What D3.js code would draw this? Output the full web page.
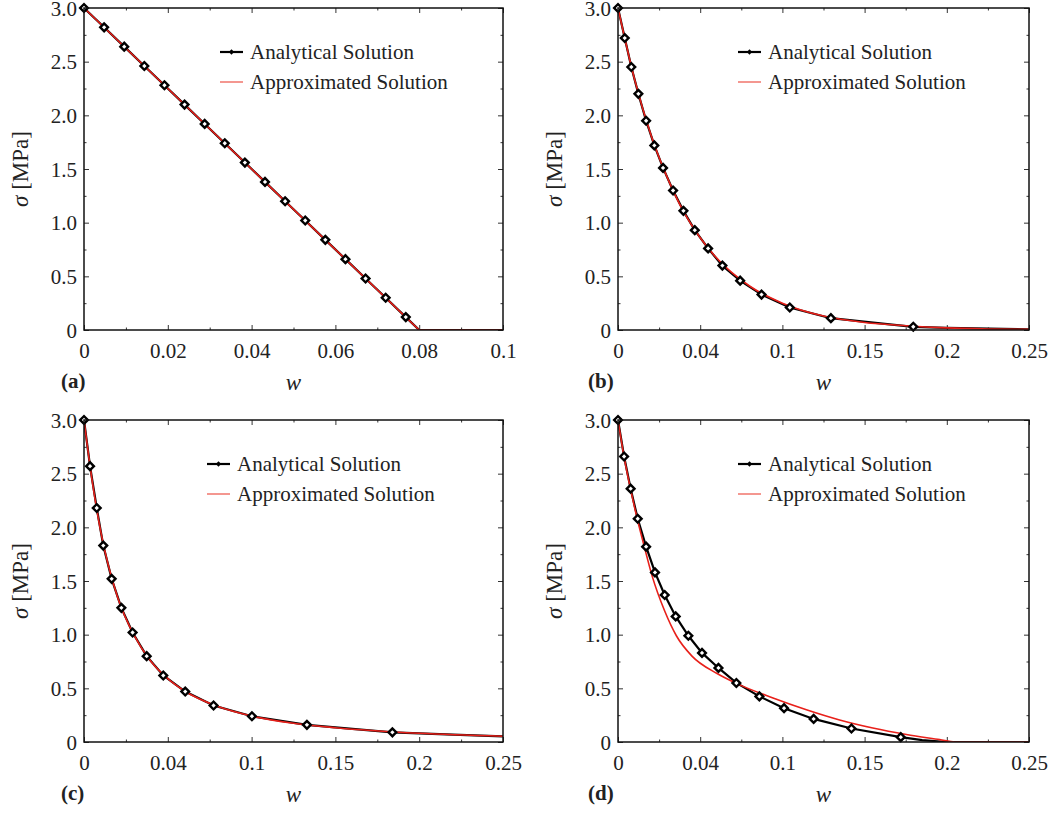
<!DOCTYPE html>
<html>
<head>
<meta charset="utf-8">
<script src="https://cdn.jsdelivr.net/npm/d3@7"></script>
<style>
body { margin: 0; background: #fff; }
svg text { font-family: "Liberation Serif", "Tinos", "DejaVu Serif", "Noto Serif", serif; fill: #222; }
</style>
</head>
<body>
<svg id="chart" width="1063" height="814"></svg>
<script>
// ---- tick values / labels ----
var yTicks = [0, 0.5, 1.0, 1.5, 2.0, 2.5, 3.0];
var yMinor = [0.25, 0.75, 1.25, 1.75, 2.25, 2.75];
var xTicksNarrow = [0, 0.02, 0.04, 0.06, 0.08, 0.1];
var xLabelsNarrow = ["0", "0.02", "0.04", "0.06", "0.08", "0.1"];
var xMinorNarrow = [0.01, 0.03, 0.05, 0.07, 0.09];
var xTicksWide = [0, 0.05, 0.1, 0.15, 0.2, 0.25];
var xLabelsWide = ["0", "0.04", "0.1", "0.15", "0.2", "0.25"];
var xMinorWide = [0.025, 0.075, 0.125, 0.175, 0.225];
var panelLetters = ["(a)", "(b)", "(c)", "(d)"];
var legendLabels = ["Analytical Solution", "Approximated Solution"];

// ---- panel (a) ----
var aAnalytW = [0, 0.0048, 0.0096, 0.0144, 0.0192, 0.024, 0.0288, 0.0336, 0.0384, 0.0432, 0.048, 0.0528, 0.0576, 0.0624, 0.0672, 0.072, 0.0768];
var aAnalytS = [3.0, 2.82, 2.64, 2.46, 2.28, 2.10, 1.92, 1.74, 1.56, 1.38, 1.20, 1.02, 0.84, 0.66, 0.48, 0.30, 0.12];
var aTailW = [0.08, 0.1];
var aTailS = [0, 0];
var aApproxW = [0, 0.04, 0.08, 0.1];
var aApproxS = [3.0, 1.5, 0, 0];

// ---- panel (b) ----
var bAnalytW = [0, 0.0041, 0.0081, 0.0124, 0.0171, 0.0221, 0.0274, 0.0335, 0.0398, 0.0467, 0.0548, 0.0635, 0.0743, 0.0873, 0.1045, 0.1295, 0.1796];
var bAnalytS = [3.0, 2.72, 2.45, 2.20, 1.95, 1.72, 1.51, 1.30, 1.11, 0.93, 0.76, 0.60, 0.46, 0.33, 0.21, 0.11, 0.03];
var bTailW = [0.2, 0.25];
var bTailS = [0.02, 0.006];
var bApproxW = [0, 0.01, 0.02, 0.03, 0.04, 0.05, 0.06, 0.08, 0.1, 0.125, 0.15, 0.175, 0.2, 0.225, 0.25];
var bApproxS = [3.0, 2.34, 1.82, 1.42, 1.10, 0.86, 0.67, 0.41, 0.25, 0.13, 0.07, 0.04, 0.02, 0.01, 0.006];

// ---- panel (c) ----
var cAnalytW = [0, 0.0036, 0.0076, 0.0115, 0.0165, 0.0223, 0.029, 0.0374, 0.0473, 0.0604, 0.0773, 0.1002, 0.133, 0.184];
var cAnalytS = [3.0, 2.57, 2.18, 1.83, 1.52, 1.25, 1.02, 0.80, 0.62, 0.47, 0.34, 0.24, 0.16, 0.09];
var cTailW = [0.22, 0.25];
var cTailS = [0.068, 0.053];
var cApproxW = [0, 0.005, 0.01, 0.02, 0.03, 0.04, 0.05, 0.06, 0.08, 0.1, 0.125, 0.15, 0.2, 0.25];
var cApproxS = [3.0, 2.42, 1.96, 1.35, 0.99, 0.75, 0.59, 0.475, 0.33, 0.242, 0.175, 0.133, 0.081, 0.053];

// ---- panel (d) ----
var dAnalytW = [0, 0.0037, 0.0077, 0.012, 0.0171, 0.0225, 0.0284, 0.0351, 0.0428, 0.0511, 0.0611, 0.072, 0.086, 0.101, 0.119, 0.142, 0.172];
var dAnalytS = [3.0, 2.66, 2.36, 2.08, 1.82, 1.58, 1.37, 1.17, 0.99, 0.83, 0.69, 0.55, 0.425, 0.315, 0.215, 0.126, 0.045];
var dTailW = [0.185, 0.2, 0.25];
var dTailS = [0.018, 0, 0];
var dApproxW = [0, 0.004, 0.008, 0.012, 0.016, 0.0207, 0.0284, 0.0355, 0.045, 0.06, 0.072, 0.0943, 0.1146, 0.1348, 0.155, 0.1754, 0.1957, 0.205, 0.25];
var dApproxS = [3.0, 2.63, 2.33, 2.06, 1.82, 1.55, 1.22, 0.99, 0.80, 0.64, 0.546, 0.41, 0.30, 0.205, 0.13, 0.07, 0.022, 0, 0];

var zip = function(ws, ss) {
  return ws.map(function(w, i) { return { w: w, s: ss[i] }; });
};

var panels = [
  { left: 84,  top: 8,   width: 419, height: 322, xMax: 0.1,  xTicks: xTicksNarrow, xLabels: xLabelsNarrow, xMinor: xMinorNarrow,
    analyt: zip(aAnalytW, aAnalytS), tail: zip(aTailW, aTailS), approx: zip(aApproxW, aApproxS), smooth: false, legX: 136, letX: -23 },
  { left: 618, top: 8,   width: 411, height: 322, xMax: 0.25, xTicks: xTicksWide, xLabels: xLabelsWide, xMinor: xMinorWide,
    analyt: zip(bAnalytW, bAnalytS), tail: zip(bTailW, bTailS), approx: zip(bApproxW, bApproxS), smooth: true, legX: 120, letX: -30 },
  { left: 84,  top: 420, width: 419, height: 322, xMax: 0.25, xTicks: xTicksWide, xLabels: xLabelsWide, xMinor: xMinorWide,
    analyt: zip(cAnalytW, cAnalytS), tail: zip(cTailW, cTailS), approx: zip(cApproxW, cApproxS), smooth: true, legX: 123, letX: -23 },
  { left: 618, top: 420, width: 411, height: 322, xMax: 0.25, xTicks: xTicksWide, xLabels: xLabelsWide, xMinor: xMinorWide,
    analyt: zip(dAnalytW, dAnalytS), tail: zip(dTailW, dTailS), approx: zip(dApproxW, dApproxS), smooth: true, legX: 120, letX: -30 }
];

var svg = d3.select("#chart");
var FONT = 21;
var SERIF = '"Liberation Serif", "Tinos", "DejaVu Serif", "Noto Serif", serif';

var styleAxis = function(sel) {
  sel.select(".domain").remove();
  sel.selectAll(".tick line").attr("stroke", "#333").attr("stroke-width", 1);
  sel.selectAll("text").attr("font-family", SERIF).attr("font-size", FONT).attr("fill", "#222");
};

var drawPanel = function(p, idx) {
  var g = svg.append("g").attr("transform", "translate(" + p.left + "," + p.top + ")");
  var x = d3.scaleLinear().domain([0, p.xMax]).range([0, p.width]);
  var y = d3.scaleLinear().domain([0, 3]).range([p.height, 0]);

  var clipId = "clip" + idx;
  g.append("clipPath").attr("id", clipId)
    .append("rect").attr("width", p.width).attr("height", p.height + 1).attr("y", -1);

  // major + minor ticks on all four sides, pointing inward
  g.append("g").attr("transform", "translate(0," + p.height + ")")
    .call(d3.axisBottom(x).tickValues(p.xTicks).tickSize(-5).tickPadding(13)
      .tickFormat(function(d, i) { return p.xLabels[i]; }))
    .call(styleAxis);
  g.append("g").attr("transform", "translate(0," + p.height + ")")
    .call(d3.axisBottom(x).tickValues(p.xMinor).tickSize(-2.5).tickFormat(""))
    .call(styleAxis);
  g.append("g")
    .call(d3.axisTop(x).tickValues(p.xTicks).tickSize(-5).tickFormat(""))
    .call(styleAxis);
  g.append("g")
    .call(d3.axisTop(x).tickValues(p.xMinor).tickSize(-2.5).tickFormat(""))
    .call(styleAxis);
  g.append("g")
    .call(d3.axisLeft(y).tickValues(yTicks).tickSize(-5).tickPadding(7)
      .tickFormat(function(d) { return d === 0 ? "0" : d.toFixed(1); }))
    .call(styleAxis)
    .selectAll("text").attr("dy", "0.34em");
  g.append("g")
    .call(d3.axisLeft(y).tickValues(yMinor).tickSize(-2.5).tickFormat(""))
    .call(styleAxis);
  g.append("g").attr("transform", "translate(" + p.width + ",0)")
    .call(d3.axisRight(y).tickValues(yTicks).tickSize(-5).tickFormat(""))
    .call(styleAxis);
  g.append("g").attr("transform", "translate(" + p.width + ",0)")
    .call(d3.axisRight(y).tickValues(yMinor).tickSize(-2.5).tickFormat(""))
    .call(styleAxis);

  var plot = g.append("g").attr("clip-path", "url(#" + clipId + ")");

  var blackLine = d3.line().x(function(d) { return x(d.w); }).y(function(d) { return y(d.s); });
  var redLine = d3.line().curve(p.smooth ? d3.curveMonotoneX : d3.curveLinear)
    .x(function(d) { return x(d.w); }).y(function(d) { return y(d.s); });

  plot.append("path").datum(p.analyt.concat(p.tail))
    .attr("d", blackLine).attr("fill", "none").attr("stroke", "#000").attr("stroke-width", 2.2);

  var diamond = d3.symbol().type(d3.symbolSquare).size(30);
  g.selectAll(".marker").data(p.analyt).enter().append("path")
    .attr("class", "marker")
    .attr("d", diamond)
    .attr("transform", function(d) { return "translate(" + x(d.w) + "," + y(d.s) + ") rotate(45)"; })
    .attr("fill", "#fff").attr("stroke", "#000").attr("stroke-width", 2.4);

  plot.append("path").datum(p.approx)
    .attr("d", redLine).attr("fill", "none").attr("stroke", "#e8201a").attr("stroke-width", 1.6);

  // frame
  g.append("rect").attr("width", p.width).attr("height", p.height)
    .attr("fill", "none").attr("stroke", "#111").attr("stroke-width", 1.5);

  // legend
  var leg = g.append("g").attr("transform", "translate(" + p.legX + ",44)");
  leg.append("line").attr("x1", 0).attr("x2", 23).attr("y1", 0).attr("y2", 0)
    .attr("stroke", "#000").attr("stroke-width", 2.2);
  leg.append("path").attr("d", d3.symbol().type(d3.symbolSquare).size(14))
    .attr("transform", "translate(11.5,0) rotate(45)").attr("fill", "#000");
  leg.append("text").attr("x", 30).attr("y", 7).attr("font-size", FONT).text(legendLabels[0]);
  leg.append("line").attr("x1", 0).attr("x2", 23).attr("y1", 30).attr("y2", 30)
    .attr("stroke", "#f06a60").attr("stroke-width", 1.4);
  leg.append("text").attr("x", 30).attr("y", 37).attr("font-size", FONT).text(legendLabels[1]);

  // axis titles
  var yl = g.append("text")
    .attr("transform", "translate(-56," + (p.height / 2) + ") rotate(-90)")
    .attr("text-anchor", "middle").attr("font-size", 23);
  yl.append("tspan").attr("font-style", "italic").text("σ");
  yl.append("tspan").text(" [MPa]");

  g.append("text").attr("x", p.width / 2).attr("y", p.height + 60)
    .attr("text-anchor", "middle").attr("font-size", 23).attr("font-style", "italic").text("w");

  g.append("text").attr("x", p.letX).attr("y", p.height + 58)
    .attr("font-size", FONT).attr("font-weight", "bold").text(panelLetters[idx]);
};

panels.forEach(drawPanel);
</script>
</body>
</html>
